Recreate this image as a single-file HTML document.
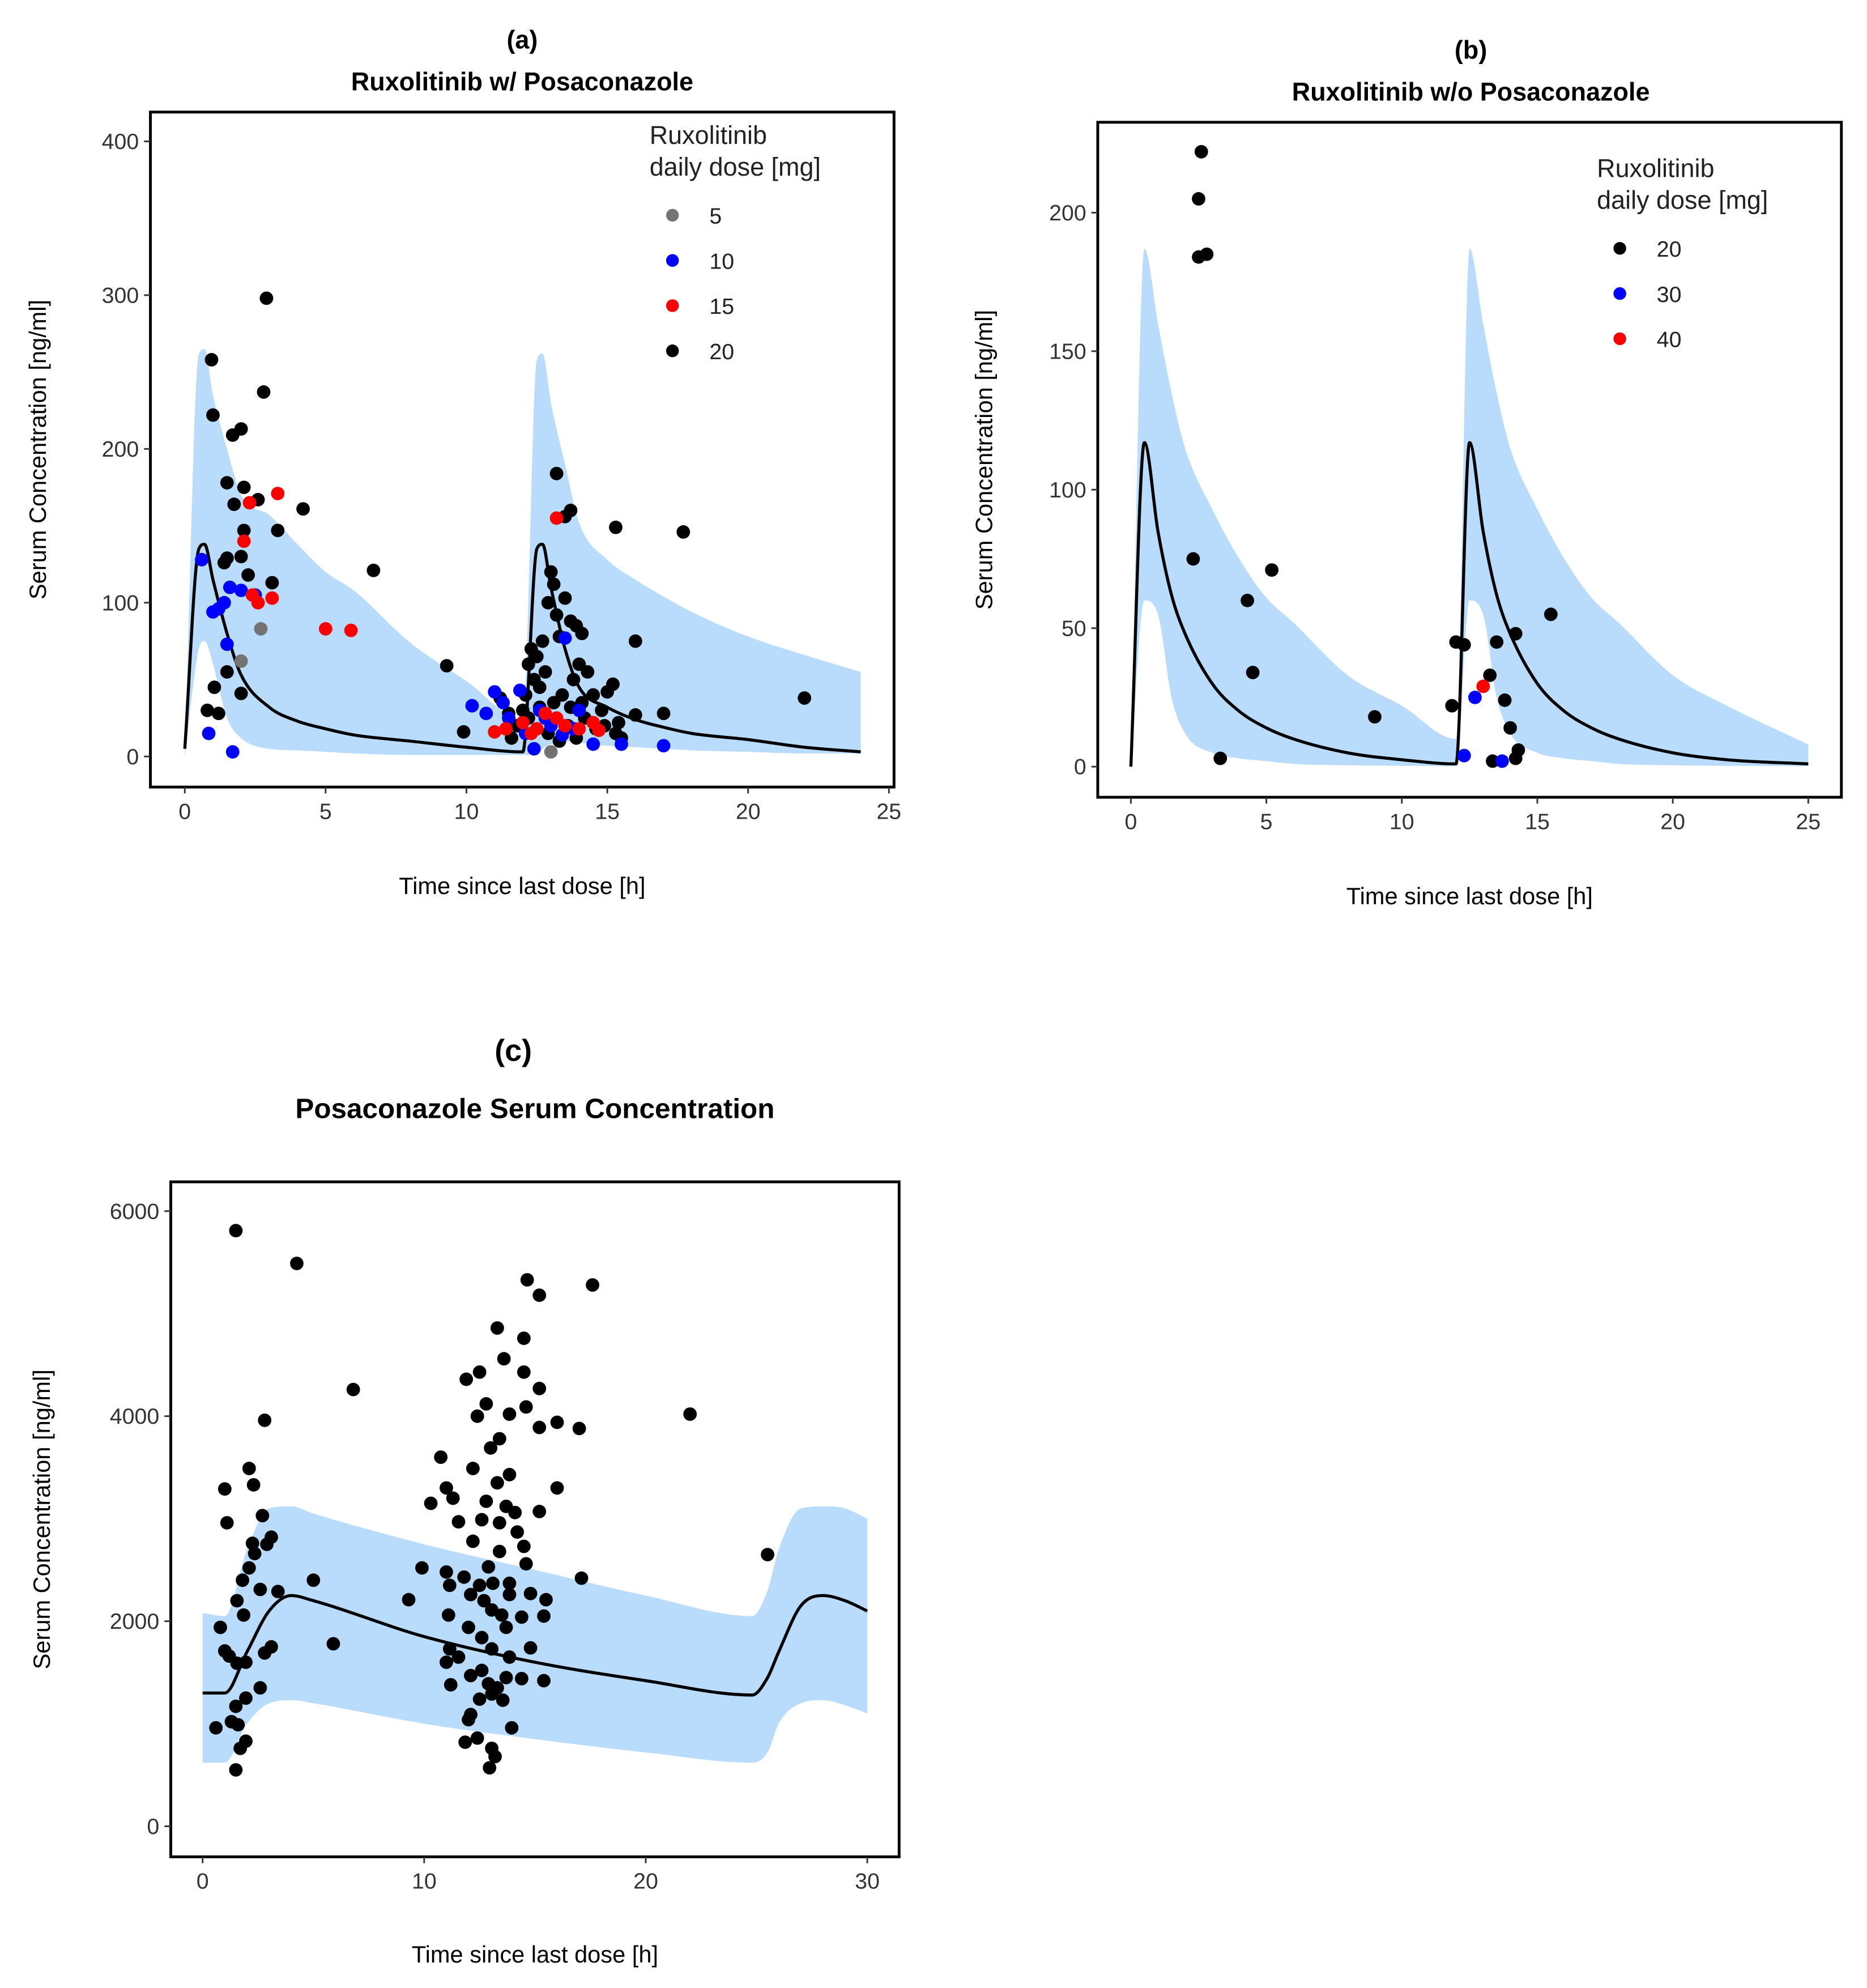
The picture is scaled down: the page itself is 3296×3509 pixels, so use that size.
<!DOCTYPE html>
<html><head><meta charset="utf-8"><style>
html,body{margin:0;padding:0;background:#fff;}
svg{display:block;font-family:"Liberation Sans",Arial,sans-serif;}
</style></head><body>
<svg id="fig" width="3296" height="3509" viewBox="0 0 1466 1561" xmlns="http://www.w3.org/2000/svg"></svg>
<script>
// ---------- Panel (a) data ----------
const aCurveT = [0,0.5,0.7,1,1.5,2,3,4,5,6,8,10,12,12.5,12.7,13,13.5,14,15,16,17,18,20,22,24];
const aMean   = [5,135,138,115,80,53,32,23,18,14,10,6,3,135,138,110,70,45,32,24,19,15,11,6,3];
const aUpper  = [5,262,265,235,200,170,157,138,120,108,74,49,24,258,262,230,190,152,128,115,104,94,78,66,55];
const aLower  = [0,70,75,60,25,12,5,4,3,2,1,1,1,2,5,8,10,9,7,6,5,4,3,2,2];
const aT5=[2.0,2.7,13.0], aC5=[62,83,3];
const aT10=[0.6,0.85,1.0,1.2,1.4,1.6,2.0,2.5,1.5,1.7,10.2,10.7,11.0,11.3,11.5,11.9,12.1,12.4,12.6,13.0,13.4,13.5,14.0,14.5,15.5,17.0,13.8,12.8];
const aC10=[128,15,94,96,100,110,108,105,73,3,33,28,42,35,25,43,15,5,30,20,14,77,30,8,8,7,18,25];
const aT15=[2.1,2.3,3.3,2.4,2.6,3.1,5.0,5.9,13.2,11.0,11.4,12.0,12.5,12.8,13.2,13.5,14.0,14.5,14.7,12.3];
const aC15=[140,165,171,105,100,103,83,82,155,16,18,22,18,28,25,20,18,22,17,15];
const aT20=[0.95,1.0,1.7,2.0,2.9,2.8,1.5,2.1,1.75,2.6,4.2,3.3,2.1,1.5,1.4,2.0,2.25,3.1,6.7,0.8,1.05,1.5,1.2,2.0,9.3,9.9,13.2,13.7,13.5,15.3,17.7,16.0,22.0,17.0,16.0,15.4,
 12.2,12.3,12.5,12.8,13.0,13.1,12.9,13.2,13.5,13.7,13.9,14.1,13.3,12.7,12.4,12.6,13.1,13.4,13.8,14.0,14.3,14.5,14.8,15.0,15.2,14.2,13.6,12.9,12.0,11.6,11.8,12.2,13.3,14.6,15.5,11.2,11.5,12.6,13.9,14.9,15.3,12.1,13.7,14.1];
const aC20=[258,222,209,213,298,237,178,175,164,167,161,147,147,129,126,130,118,113,121,30,45,55,28,41,59,16,184,160,156,149,146,75,38,28,27,22,
 60,70,65,55,120,112,100,92,103,88,85,80,78,75,50,45,35,40,50,60,55,40,30,42,47,25,20,15,30,12,20,25,10,18,12,38,28,32,12,20,15,40,32,35];
// ---------- Panel (b) data ----------
const bCurveT = [0,0.5,1,1.5,2,3,4,5,6,8,10,12,12.5,13,13.5,14,15,16,17,18,20,22,25];
const bMean   = [0,117,85,62,48,30,20,14,10,5,2.5,1,117,85,62,48,30,20,14,10,5,2.5,1];
const bUpper  = [0,187,160,135,115,93,75,61,52,33,22,10,187,160,135,115,93,75,61,52,33,22,8];
const bLower  = [0,60,55,25,12,5,3,2,1,0.5,0.3,0.2,60,55,25,12,5,3,2,1,0.5,0.3,0.2];
const bT20=[2.6,2.5,2.5,2.8,2.3,4.3,5.2,4.5,3.3,9.0,12.0,12.3,11.85,13.5,14.2,15.5,13.25,13.8,14.0,14.3,14.2,13.35];
const bC20=[222,205,184,185,75,60,71,34,3,18,45,44,22,45,48,55,33,24,14,6,3,2];
const bT30=[12.3,12.7,13.7], bC30=[4,25,2];
const bT40=[13.0], bC40=[29];
// ---------- Panel (c) data ----------
const cCurveT = [0,1,2,3,4,5,10,15,20,24.8,25.5,26,27,28,29,30];
const cMean   = [1300,1300,1700,2100,2250,2200,1850,1600,1420,1280,1450,1700,2150,2250,2200,2100];
const cUpper  = [2080,2050,2700,3100,3120,3050,2750,2500,2250,2050,2300,2700,3100,3120,3100,3000];
const cLower  = [620,620,1000,1200,1230,1200,1000,850,720,620,720,1000,1200,1230,1180,1100];
const cT=[1.5,4.25,6.8,2.8,1.0,1.1,2.1,2.3,2.7,3.1,2.25,2.35,2.9,2.1,1.8,2.6,3.4,5.0,1.55,1.85,0.8,1.0,1.2,1.55,1.95,3.1,2.8,5.9,2.6,1.95,1.5,1.3,1.6,0.6,1.95,1.7,1.5,25.5,22.0,17.6,
 14.65,15.2,13.3,14.5,13.6,11.9,12.5,14.5,15.2,12.8,14.6,13.85,12.4,16.0,15.2,17.0,13.4,13.0,10.75,12.2,13.85,13.3,11.0,16.0,11.3,10.3,12.8,13.7,14.1,15.2,12.6,13.4,14.2,11.55,14.5,12.2,13.4,14.6,12.9,9.9,11.0,11.8,17.1,11.15,12.5,13.1,13.85,12.1,12.7,13.85,14.8,15.5,9.3,11.1,13.05,13.5,15.4,14.4,12.0,13.7,12.6,13.05,11.15,11.55,14.8,13.85,11.0,12.6,12.1,13.7,14.4,12.9,15.4,11.2,13.3,12.5,13.55,13.05,13.95,12.1,12.0,12.4,11.85,13.05,13.2,12.95];
const cC=[5810,5490,4260,3960,3290,2960,3490,3330,3030,2820,2760,2660,2750,2520,2400,2310,2290,2400,2200,2060,1940,1710,1660,1590,1600,1750,1690,1780,1350,1250,1170,1020,990,960,830,760,550,2650,4020,5280,
 5330,5180,4860,4760,4560,4360,4430,4430,4270,4120,4090,4020,4000,3940,3890,3880,3780,3690,3600,3490,3430,3350,3300,3300,3200,3150,3170,3120,3060,3070,2990,2960,2870,2970,2730,2780,2680,2560,2530,2520,2480,2430,2420,2350,2350,2370,2370,2260,2200,2260,2270,2210,2210,2060,2110,2060,2050,2040,1940,1940,1840,1730,1730,1650,1740,1650,1600,1520,1470,1450,1440,1390,1420,1380,1350,1240,1230,1290,960,1090,1040,860,820,760,680,570];
const ticksA=[0,100,200,300,400], ticksB=[0,50,100,150,200], ticksC=[0,2000,4000,6000];
const xticksAB=[0,5,10,15,20,25], xticksC=[0,10,20,30];

const NS="http://www.w3.org/2000/svg";
const svg=document.getElementById('fig');
function mk(tag,attrs,parent,text){const e=document.createElementNS(NS,tag);for(const k in attrs)e.setAttribute(k,attrs[k]);if(text!==undefined)e.textContent=text;(parent||svg).appendChild(e);return e;}

// monotone cubic (Fritsch-Carlson) path segments through pixel points
function mono(xs,ys){
  const n=xs.length,h=[],s=[],m=[];
  for(let i=0;i<n-1;i++){h[i]=xs[i+1]-xs[i];s[i]=(ys[i+1]-ys[i])/h[i];}
  m[0]=s[0];m[n-1]=s[n-2];
  for(let i=1;i<n-1;i++){m[i]=(s[i-1]*s[i]<=0)?0:(s[i-1]+s[i])/2;}
  for(let i=0;i<n-1;i++){
    if(s[i]===0){m[i]=0;m[i+1]=0;continue;}
    const a=m[i]/s[i],b=m[i+1]/s[i],q=a*a+b*b;
    if(q>9){const t=3/Math.sqrt(q);m[i]=t*a*s[i];m[i+1]=t*b*s[i];}
  }
  let d='';
  for(let i=0;i<n-1;i++){
    d+='C'+(xs[i]+h[i]/3)+','+(ys[i]+m[i]*h[i]/3)+' '+(xs[i+1]-h[i]/3)+','+(ys[i+1]-m[i+1]*h[i]/3)+' '+xs[i+1]+','+ys[i+1];
  }
  return d;
}

function panel(p){
  const g=mk('g',{});
  
  
  const X=t=>p.x0+(t-p.t0)*(p.x1-p.x0)/(p.t1-p.t0);
  const Y=v=>p.y0-(v-p.v0)*(p.y0-p.y1)/(p.v1-p.v0);
  const xs=p.ct.map(X), ups=p.up.map(Y), los=p.lo.map(Y), ms=p.mean.map(Y);
  const rxs=xs.slice().reverse(), rlos=los.slice().reverse();
  const d='M'+xs[0]+','+ups[0]+mono(xs,ups)+'L'+rxs[0]+','+rlos[0]+mono(rxs,rlos)+'Z';
  const band=mk('path',{d:d,fill:'#badcfc',stroke:'none'},g);
  
  
  const line=mk('path',{d:'M'+xs[0]+','+ms[0]+mono(xs,ms),fill:'none',stroke:'#000','stroke-width':2.4,'stroke-linejoin':'round'},g);
  
  
  p.series.forEach(s=>{
    s.t.forEach((t,i)=>{
      const c=mk('circle',{cx:X(t),cy:Y(s.c[i]),r:5.3,fill:s.col},g);
      
      
    });
  });
  const fr=mk('rect',{x:p.bx0,y:p.by0,width:p.bx1-p.bx0,height:p.by1-p.by0,fill:'none',stroke:'#000','stroke-width':2.2},g);
  
  
  p.yt.forEach(v=>{
    mk('line',{x1:p.bx0-5,x2:p.bx0,y1:Y(v),y2:Y(v),stroke:'#333','stroke-width':1.3},g);
    const t=mk('text',{x:p.bx0-9,y:Y(v)+6,'text-anchor':'end','font-size':17.5,fill:'#333'},g,String(v));
    
    
  });
  p.xt.forEach(v=>{
    mk('line',{x1:X(v),x2:X(v),y1:p.by1,y2:p.by1+5,stroke:'#333','stroke-width':1.3},g);
    const t=mk('text',{x:X(v),y:p.by1+25,'text-anchor':'middle','font-size':17.5,fill:'#333'},g,String(v));
    
    
  });
  const xl=mk('text',{x:(p.bx0+p.bx1)/2,y:p.xly,'text-anchor':'middle','font-size':18.5},g,'Time since last dose [h]');
  
  
  const yl=mk('text',{x:0,y:0,'text-anchor':'middle','font-size':18.5,transform:'translate('+p.ylx+','+(p.by0+p.by1)/2+') rotate(-90)'},g,'Serum Concentration [ng/ml]');
  
  
  if(p.leg){
    const L=p.leg;
    const lt1=mk('text',{x:L.x,y:L.y,'font-size':20,fill:'#222'},g,'Ruxolitinib');
    
    
    mk('text',{x:L.x,y:L.y+25,'font-size':20,fill:'#222'},g,'daily dose [mg]');
    L.items.forEach((it,i)=>{
      const cy=L.y+56+i*35.5;
      const dot=mk('circle',{cx:L.x+18,cy:cy,r:5,fill:it[1]},g);
      
      
      const lt=mk('text',{x:L.x+47,y:cy+6.5,'font-size':17.5,fill:'#222'},g,it[0]);
      
      
    });
  }
}

panel({name:'panel-a',bx0:118,bx1:702,by0:88,by1:618,x0:145,x1:698,t0:0,t1:25,y0:594,y1:111,v0:0,v1:400,
 ct:aCurveT,mean:aMean,up:aUpper,lo:aLower,yt:ticksA,xt:xticksAB,xly:702,ylx:36,
 series:[{t:aT20,c:aC20,col:'#000'},{t:aT10,c:aC10,col:'#0000ff'},{t:aT15,c:aC15,col:'#ff0000'},{t:aT5,c:aC5,col:'#737373'}],
 leg:{x:510,y:113,items:[['5','#737373'],['10','#0000ff'],['15','#ff0000'],['20','#000']]}});
panel({name:'panel-b',bx0:862,bx1:1446,by0:96,by1:626,x0:888,x1:1420,t0:0,t1:25,y0:602,y1:167,v0:0,v1:200,
 ct:bCurveT,mean:bMean,up:bUpper,lo:bLower,yt:ticksB,xt:xticksAB,xly:710,ylx:779,
 series:[{t:bT20,c:bC20,col:'#000'},{t:bT30,c:bC30,col:'#0000ff'},{t:bT40,c:bC40,col:'#ff0000'}],
 leg:{x:1254,y:139,items:[['20','#000'],['30','#0000ff'],['40','#ff0000']]}});
panel({name:'panel-c',bx0:134,bx1:706,by0:928,by1:1458,x0:159,x1:681,t0:0,t1:30,y0:1434,y1:951,v0:0,v1:6000,
 ct:cCurveT,mean:cMean,up:cUpper,lo:cLower,yt:ticksC,xt:xticksC,xly:1541,ylx:39,
 series:[{t:cT,c:cC,col:'#000'}]});

const titles=[[410,38,20,'(a)','panel-a-label'],[410,71,20,'Ruxolitinib w/ Posaconazole','panel-a-title'],
 [1155,46,20,'(b)','panel-b-label'],[1155,79,20,'Ruxolitinib w/o Posaconazole','panel-b-title'],
 [403,833,24,'(c)','panel-c-label'],[420,878,22,'Posaconazole Serum Concentration','panel-c-title']];
titles.forEach(t=>{
  const e=mk('text',{x:t[0],y:t[1],'text-anchor':'middle','font-size':t[2],'font-weight':'bold'},svg,t[3]);
  
  
});
</script>
</body></html>
